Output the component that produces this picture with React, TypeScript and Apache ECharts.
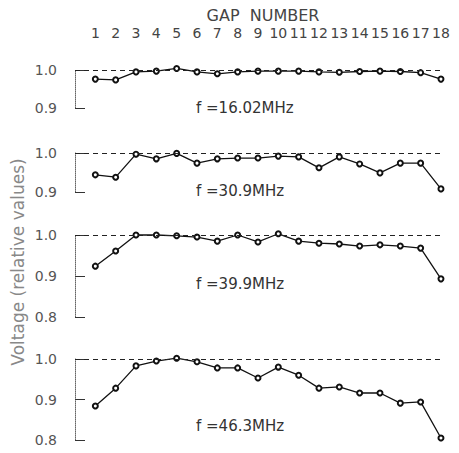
import React, { useEffect, useRef } from "react";
import * as echarts from "echarts";

const gapNumbers = [1, 2, 3, 4, 5, 6, 7, 8, 9, 10, 11, 12, 13, 14, 15, 16, 17, 18];
const freqLabels = ["f =16.02MHz", "f =30.9MHz", "f =39.9MHz", "f =46.3MHz"];
const voltage16 = [0.976, 0.974, 0.995, 0.997, 1.004, 0.995, 0.99, 0.995, 0.997, 0.997, 0.997, 0.995, 0.994, 0.996, 0.997, 0.996, 0.993, 0.976];
const voltage30 = [0.944, 0.938, 0.997, 0.985, 0.999, 0.974, 0.985, 0.987, 0.987, 0.992, 0.99, 0.962, 0.99, 0.972, 0.949, 0.974, 0.974, 0.908];
const voltage39 = [0.924, 0.961, 1.0, 1.0, 0.998, 0.995, 0.985, 1.0, 0.983, 1.003, 0.985, 0.98, 0.978, 0.973, 0.976, 0.973, 0.968, 0.893];
const voltage46 = [0.884, 0.928, 0.983, 0.995, 1.002, 0.993, 0.978, 0.978, 0.953, 0.98, 0.96, 0.928, 0.931, 0.916, 0.916, 0.891, 0.894, 0.805];
const yMinimums = [0.9, 0.9, 0.8, 0.8];
const yTitle = "Voltage (relative values)";
const xTitle = "GAP  NUMBER";

const allSeries = [voltage16, voltage30, voltage39, voltage46];
const gridBoxes = [
  { top: 70, height: 38 },
  { top: 153, height: 39 },
  { top: 235, height: 82 },
  { top: 359, height: 81 },
];
const labelTops = [100, 183, 276, 418];
const FONT = "DejaVu Sans";

export default function App() {
  const ref = useRef<HTMLDivElement>(null);
  useEffect(() => {
    if (!ref.current) return;
    const chart = echarts.init(ref.current, null, { renderer: "svg" });
    const option: any = {
      animation: false,
      backgroundColor: "#fff",
      grid: gridBoxes.map((g) => ({ left: 75, right: 16, top: g.top, height: g.height })),
      xAxis: gridBoxes.map((_, i) => ({
        gridIndex: i,
        type: "value",
        min: 0,
        max: 18.1,
        interval: 1,
        position: "top",
        axisLine: { show: false },
        axisTick: { show: false },
        splitLine: { show: false },
        axisLabel: {
          show: i === 0,
          margin: 30,
          fontSize: 14,
          color: "#444",
          fontFamily: FONT,
          formatter: (v: number) => (Number.isInteger(v) && gapNumbers.includes(v) ? String(v) : ""),
        },
      })),
      yAxis: gridBoxes.map((_, i) => ({
        gridIndex: i,
        type: "value",
        min: yMinimums[i],
        max: 1.0,
        interval: 0.1,
        axisLine: { show: true, lineStyle: { color: "#666", type: "dotted", width: 1 } },
        axisTick: { show: true, inside: true, length: 10, lineStyle: { color: "#333", width: 1 } },
        splitLine: { show: false },
        axisLabel: {
          margin: 18,
          fontSize: 14,
          color: "#555",
          fontFamily: FONT,
          formatter: (v: number) => v.toFixed(1),
        },
      })),
      series: allSeries.map((vals, i) => ({
        type: "line",
        xAxisIndex: i,
        yAxisIndex: i,
        clip: false,
        data: gapNumbers.map((g, k) => [g, vals[k]]),
        symbol: "emptyCircle",
        symbolSize: 5,
        lineStyle: { color: "#111", width: 1.3 },
        itemStyle: { color: "#111", borderWidth: 1.2 },
        markLine: {
          silent: true,
          symbol: "none",
          label: { show: false },
          lineStyle: { color: "#222", type: [5, 4], width: 1 },
          data: [{ yAxis: 1.0 }],
        },
      })),
      graphic: [
        {
          type: "text",
          x: 263,
          y: 15,
          style: { text: xTitle, fontSize: 16, fill: "#444", fontFamily: FONT, textAlign: "center", textVerticalAlign: "middle" },
        },
        {
          type: "text",
          x: 18,
          y: 262,
          rotation: Math.PI / 2,
          style: { text: yTitle, fontSize: 17, fill: "#888", fontFamily: FONT, textAlign: "center", textVerticalAlign: "middle" },
        },
        ...freqLabels.map((t, i) => ({
          type: "text",
          x: 196,
          y: labelTops[i] + 8,
          style: { text: t, fontSize: 15, fill: "#333", fontFamily: FONT, textAlign: "left", textVerticalAlign: "middle" },
        })),
      ],
    };
    chart.setOption(option);
    return () => chart.dispose();
  }, []);
  return <div ref={ref} style={{ position: "fixed", left: 0, top: 0, width: 459, height: 453 }} />;
}
